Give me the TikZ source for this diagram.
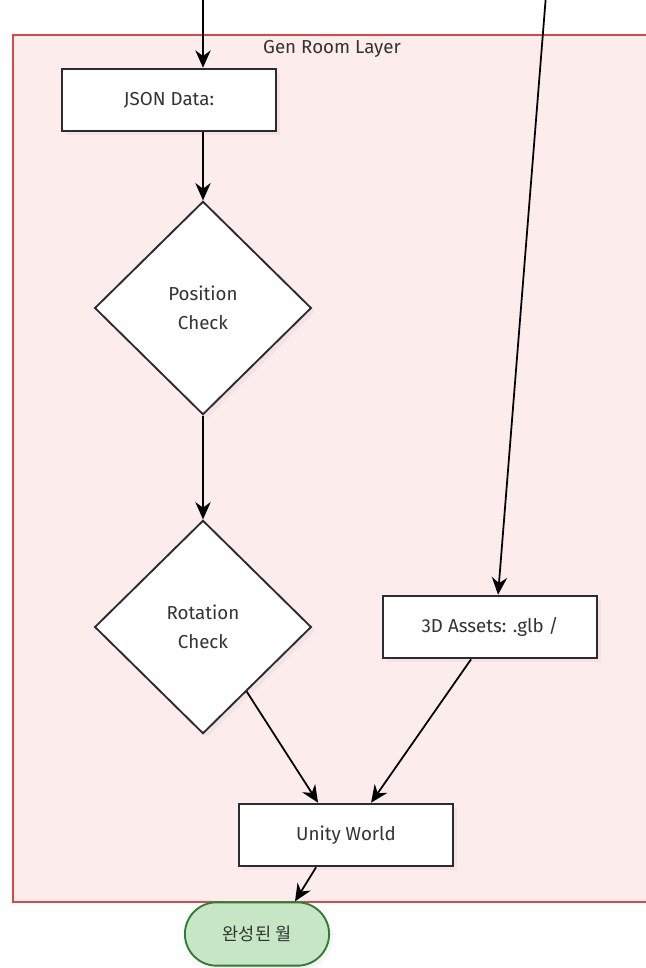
\documentclass[tikz,border=0pt]{standalone}
\usepackage{fontspec}
\setmainfont{Fira Sans}
\newfontfamily\cjk{Noto Sans CJK KR}
\usepackage{tikz}
\usetikzlibrary{shapes.geometric, shapes.misc, arrows.meta, positioning, calc, shadows}

\definecolor{layerfill}{HTML}{FDECEC}
\definecolor{layerline}{HTML}{D24A4A}
\definecolor{boxline}{HTML}{2B2B35}
\definecolor{txtgray}{HTML}{333333}
\definecolor{endfill}{HTML}{C6E6C6}
\definecolor{endline}{HTML}{2E7D32}

\begin{document}
\begin{tikzpicture}[
    x=0.03cm, y=-0.03cm,
    font=\fontsize{16}{25}\selectfont, text=txtgray,
    stepbox/.style={draw=boxline, line width=1.6pt, fill=white, rectangle,
      minimum width=6.42cm, minimum height=1.88cm, align=center,
      drop shadow={shadow xshift=0.12cm, shadow yshift=-0.12cm, opacity=0.08}},
    check/.style={draw=boxline, line width=1.6pt, fill=white, diamond, aspect=1,
      minimum width=6.5cm, minimum height=6.4cm, inner sep=0pt, align=center,
      drop shadow={shadow xshift=0.12cm, shadow yshift=-0.12cm, opacity=0.08}},
    terminal/.style={draw=endline, line width=1.6pt, fill=endfill, rounded rectangle,
      minimum width=4.56cm, minimum height=1.9cm, font=\cjk\fontsize{15}{18}\selectfont,
      drop shadow={shadow xshift=0.12cm, shadow yshift=-0.12cm, opacity=0.08}},
    arrow/.style={line width=1.5pt, draw=black, -{Stealth[length=0.52cm, width=0.46cm]}}
]
\clip (0,0) rectangle (646,968);
\fill[white] (0,0) rectangle (646,968);

% cluster
\draw[layerline, fill=layerfill, line width=1.3pt] (13,35) rectangle (680,902);
\node (layertitle) at (332,49) {Gen Room Layer};

% nodes
\node[stepbox] (json) at (169,100) {JSON Data:};
\node[check] (pos) at (203,308) {Position\\Check};
\node[check] (rot) at (203,627) {Rotation\\Check};
\node[stepbox] (assets) at (490,627) {3D Assets: .glb /};
\node[stepbox] (unity) at (346,835) {Unity World};
\node[terminal] (done) at (257,934) {완성된 월};

% free ends above
\coordinate (injson) at (203,-5);
\coordinate (inassets) at (546,-5);

% connectors
\draw[arrow] (injson) -- (json.north -| injson);
\draw[arrow] (json.south -| pos.north) -- (pos.north);
\draw[arrow] (pos.south) -- (rot.north);
\draw[arrow] (inassets) -- ($(assets.north west)+(116,0)$);
\draw[arrow] ($(rot.south)!0.4!(rot.east)$) -- ($(unity.north west)+(80,0)$);
\draw[arrow] ($(assets.south west)+(89,0)$) -- ($(unity.north west)+(133,0)$);
\draw[arrow] ($(unity.south west)+(78,0)$) -- ($(done.north)+(38,0)$);
\end{tikzpicture}
\end{document}
